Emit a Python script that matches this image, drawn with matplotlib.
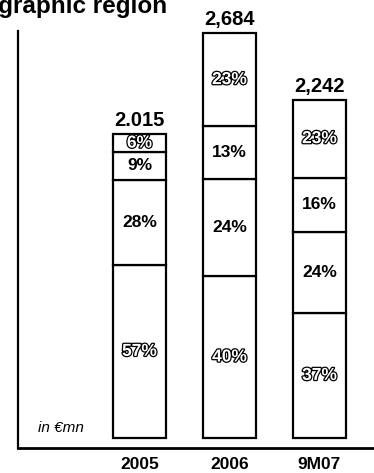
import matplotlib.pyplot as plt
import matplotlib.patheffects as pe

plt.rcParams["font.family"] = ["Liberation Sans", "DejaVu Sans"]

categories = ["2005", "2006", "9M07"]
totals = [2015, 2684, 2242]
total_labels = ["2.015", "2,684", "2,242"]

# regional shares in percent, bottom segment first
share_1 = [57, 40, 37]
share_2 = [28, 24, 24]
share_3 = [9, 13, 16]
share_4 = [6, 23, 23]
shares = [share_1, share_2, share_3, share_4]
outlined = [True, False, False, True]

W, H = 374, 473
fig = plt.figure(figsize=(W / 100, H / 100), dpi=100)
# plot area in pixels: left spine at x=18, bottom spine at y=448, top at y=31
left, bottom, top = 18, 448, 31
ax = fig.add_axes([left / W, (H - bottom) / H, (W - left) / W, (bottom - top) / H])

px_per_unit = 405 / 2684
ax.set_ylim(-10 / px_per_unit, 2684 + 2 / px_per_unit)
ax.set_xlim(-121.5 / 90, (W - left - 121.5) / 90)

x = list(range(len(categories)))
base = [0.0] * len(categories)
for k, share in enumerate(shares):
    seg = [t * s / 100 for t, s in zip(totals, share)]
    ax.bar(x, seg, bottom=base, width=0.59, color="white", edgecolor="black", linewidth=1.6)
    for i in x:
        yc = base[i] + seg[i] / 2
        if outlined[k]:
            ax.text(i, yc, f"{share[i]}%", ha="center", va="center", fontsize=12.5,
                    fontweight="bold", color="white",
                    path_effects=[pe.withStroke(linewidth=1.8, foreground="black")])
        else:
            ax.text(i, yc, f"{share[i]}%", ha="center", va="center", fontsize=12.5,
                    fontweight="bold", color="black")
    base = [b + s for b, s in zip(base, seg)]

for i, t in enumerate(totals):
    ax.annotate(total_labels[i], (i, t), xytext=(0, 3), textcoords="offset points",
                ha="center", va="bottom", fontsize=14.5, fontweight="bold")

ax.spines[["top", "right"]].set_visible(False)
ax.spines["left"].set_linewidth(1.6)
ax.spines["bottom"].set_linewidth(2)
ax.set_yticks([])
ax.set_xticks(x, categories)
for lab in ax.get_xticklabels():
    lab.set_family(["Liberation Sans Narrow", "Liberation Sans"])
    lab.set_fontsize(12.5)
    lab.set_fontweight("bold")
ax.tick_params(axis="x", length=0, pad=6.5)

ax.text(20 / 356, 20 / 417, "in €mn", transform=ax.transAxes, fontsize=11,
        style="italic", ha="left", va="center")

# heading runs off the top-left corner of the page
fig.text(167 / W, 1 - 13 / H, "geographic region", ha="right", va="baseline",
         fontsize=17.5, fontweight="bold")

fig.savefig("out.png", dpi=100)
